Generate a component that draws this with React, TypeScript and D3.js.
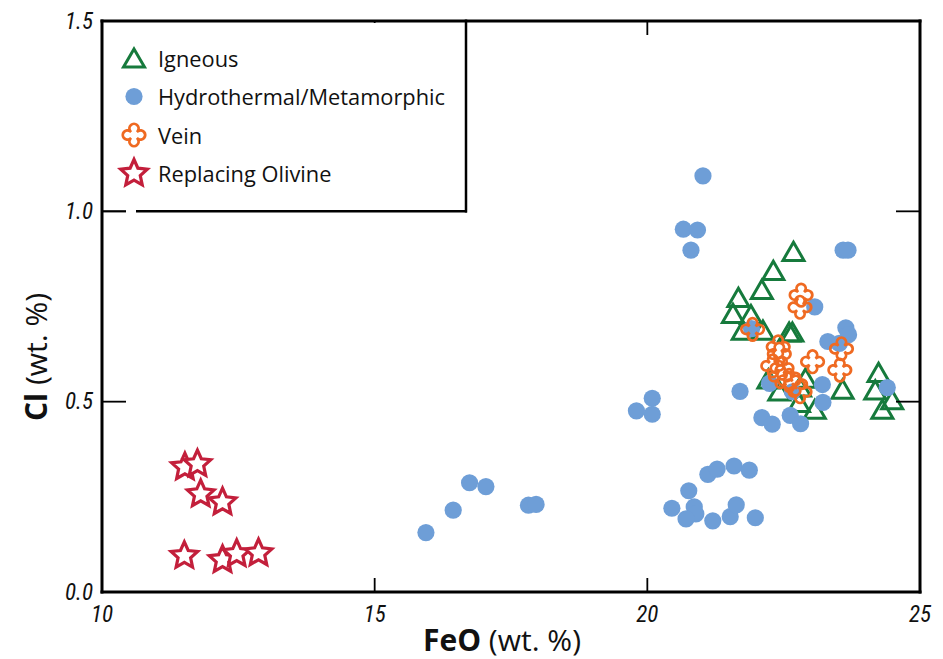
import React from "react";
import * as d3 from "d3";

const igneousFeO = [22.68, 22.31, 22.10, 21.67, 21.57, 21.90, 21.75, 22.12, 22.60, 22.66, 22.22, 22.42, 22.80, 22.90, 22.78, 23.07, 23.58, 24.24, 24.18, 24.49, 24.31];
const igneousCl = [0.895, 0.845, 0.795, 0.774, 0.732, 0.729, 0.688, 0.688, 0.683, 0.683, 0.560, 0.528, 0.539, 0.562, 0.498, 0.480, 0.533, 0.577, 0.531, 0.505, 0.480];

const hydroFeO = [15.94, 16.44, 16.74, 17.04, 17.82, 17.96, 19.80, 20.09, 20.09, 20.66, 20.92, 20.80, 21.02, 21.70, 22.10, 22.29, 22.24, 22.62, 22.81, 22.66, 21.91, 23.07, 23.59, 23.68, 23.64, 23.69, 23.31, 23.52, 23.21, 23.22, 24.40, 21.11, 21.28, 21.59, 21.87, 20.76, 20.45, 20.86, 20.89, 20.71, 21.20, 21.52, 21.63, 21.98];
const hydroCl = [0.156, 0.215, 0.287, 0.277, 0.228, 0.230, 0.476, 0.509, 0.467, 0.953, 0.951, 0.898, 1.093, 0.527, 0.458, 0.441, 0.548, 0.464, 0.442, 0.526, 0.692, 0.749, 0.898, 0.898, 0.694, 0.676, 0.658, 0.653, 0.545, 0.498, 0.537, 0.309, 0.323, 0.331, 0.320, 0.266, 0.220, 0.224, 0.205, 0.192, 0.187, 0.198, 0.229, 0.195];

const veinFeO = [22.82, 22.80, 21.93, 22.40, 22.42, 22.30, 22.47, 22.44, 22.60, 22.72, 22.80, 23.03, 23.56, 23.53];
const veinCl = [0.780, 0.748, 0.690, 0.644, 0.625, 0.594, 0.588, 0.566, 0.556, 0.546, 0.526, 0.605, 0.639, 0.583];

const olivineFeO = [11.52, 11.75, 11.81, 12.21, 11.51, 12.21, 12.47, 12.87];
const olivineCl = [0.328, 0.336, 0.257, 0.236, 0.095, 0.084, 0.100, 0.102];

const xTicks = [10, 15, 20, 25];
const yTicks = [0, 0.5, 1.0, 1.5];
const innerXTicks = [15, 20];
const innerYTicks = [0.5, 1.0];
const legendLabels = ["Igneous", "Hydrothermal/Metamorphic", "Vein", "Replacing Olivine"];

const GREEN = "#167a3c";
const BLUE = "#6e9ed7";
const ORANGE = "#ef6a22";
const RED = "#c31f3b";

const x = d3.scaleLinear().domain([10, 25]).range([102, 920]);
const y = d3.scaleLinear().domain([0, 1.5]).range([592, 21]);

function trianglePath(s: number) {
  const h = (s * Math.sqrt(3)) / 2;
  return `M0,${-h / 2}L${s / 2},${h / 2}L${-s / 2},${h / 2}Z`;
}

function starPath(R: number, r: number) {
  const pts: [number, number][] = [];
  for (let i = 0; i < 10; i++) {
    const a = -Math.PI / 2 + (i * Math.PI) / 5;
    const rad = i % 2 === 0 ? R : r;
    pts.push([Math.cos(a) * rad, Math.sin(a) * rad]);
  }
  return d3.line()(pts) + "Z";
}

function veinPath(n: number, r: number, d: number) {
  const yy = -d + Math.sqrt(r * r - n * n);
  const rot = (p: [number, number], k: number): [number, number] => {
    let [px, py] = p;
    for (let i = 0; i < k; i++) {
      const t = px;
      px = py;
      py = -t;
    }
    return [px, py];
  };
  let path = "";
  for (let k = 0; k < 4; k++) {
    const s = rot([n, yy], k);
    const e = rot([-n, yy], k);
    path += (k === 0 ? `M${s[0]},${s[1]}` : `L${s[0]},${s[1]}`) + `A${r},${r} 0 1 0 ${e[0]},${e[1]}`;
  }
  return path + "Z";
}

const triD = trianglePath(21);
const starD = starPath(14, 6.6);
const veinD = veinPath(3.8, 4.6, 6.6);

const tickFont = "'Liberation Sans Narrow', 'Roboto Condensed', 'Open Sans', sans-serif";
const textFont = "'Open Sans', 'Noto Sans', sans-serif";

export default function App() {
  return (
    <svg width={943} height={659} style={{ position: "absolute", left: 0, top: 0, background: "#fff" }}>
      <g>
        {igneousFeO.map((v, i) => (
          <path key={"ig" + i} d={triD} transform={`translate(${x(v)},${y(igneousCl[i])})`} fill="none" stroke={GREEN} strokeWidth={3} strokeLinejoin="miter" />
        ))}
        {hydroFeO.map((v, i) => (
          <circle key={"hy" + i} cx={x(v)} cy={y(hydroCl[i])} r={8.6} fill={BLUE} />
        ))}
        {veinFeO.map((v, i) => (
          <path key={"ve" + i} d={veinD} transform={`translate(${x(v)},${y(veinCl[i])})`} fill="none" stroke={ORANGE} strokeWidth={2.8} />
        ))}
        {olivineFeO.map((v, i) => (
          <path key={"ol" + i} d={starD} transform={`translate(${x(v)},${y(olivineCl[i])})`} fill="#fff" stroke={RED} strokeWidth={3.2} strokeLinejoin="miter" />
        ))}
      </g>

      <g stroke="#000" fill="none">
        <line x1={x(10)} x2={x(10)} y1={y(1.5) - 1.5} y2={y(0) + 1.5} strokeWidth={3} />
        <line x1={x(10) - 1.5} x2={x(25) + 1.5} y1={y(0)} y2={y(0)} strokeWidth={3} />
        <line x1={x(25)} x2={x(25)} y1={y(1.5) - 1.5} y2={y(0) + 1.5} strokeWidth={3} />
        <line x1={x(10) - 1.5} x2={x(25) + 1.5} y1={y(1.5)} y2={y(1.5)} strokeWidth={3} />
        {innerXTicks.map((t) => (
          <g key={"xt" + t}>
            <line x1={x(t)} x2={x(t)} y1={y(0)} y2={y(0) - 14} strokeWidth={1.8} />
            <line x1={x(t)} x2={x(t)} y1={y(1.5)} y2={y(1.5) + 14} strokeWidth={1.8} />
          </g>
        ))}
        {innerYTicks.map((t) => (
          <g key={"yt" + t}>
            <line x1={x(10)} x2={x(10) + 24} y1={y(t)} y2={y(t)} strokeWidth={1.8} />
            <line x1={x(25)} x2={x(25) - 24} y1={y(t)} y2={y(t)} strokeWidth={1.8} />
          </g>
        ))}
      </g>

      <g>
        <rect x={x(10) + 2} y={y(1.5) + 2} width={362} height={187} fill="#fff" />
        <line x1={466} x2={466} y1={y(1.5) - 1.5} y2={y(1.0) + 1.2} stroke="#000" strokeWidth={2.5} />
        <line x1={136} x2={467} y1={y(1.0)} y2={y(1.0)} stroke="#000" strokeWidth={2.5} />
        <line x1={x(10)} x2={x(10) + 24} y1={y(1.0)} y2={y(1.0)} stroke="#000" strokeWidth={1.8} />
        {legendLabels.map((lab, i) => {
          const cy = 58 + i * 38.5;
          let marker;
          if (i === 0) marker = <path d={triD} transform={`translate(134,${cy})`} fill="none" stroke={GREEN} strokeWidth={3} />;
          else if (i === 1) marker = <circle cx={134} cy={cy} r={8.6} fill={BLUE} />;
          else if (i === 2) marker = <path d={veinD} transform={`translate(134,${cy})`} fill="none" stroke={ORANGE} strokeWidth={2.8} />;
          else marker = <path d={starD} transform={`translate(134,${cy})`} fill="#fff" stroke={RED} strokeWidth={3.2} />;
          return (
            <g key={lab}>
              {marker}
              <text x={158} y={cy} dominantBaseline="central" fontFamily={textFont} fontSize={21.8} fill="#111">
                {lab}
              </text>
            </g>
          );
        })}
      </g>

      <g fontFamily={tickFont} fontStyle="italic" fontSize={23} fill="#111">
        {yTicks.map((t) => (
          <text key={"yl" + t} x={93} y={y(t)} textAnchor="end" dominantBaseline="central">
            {d3.format(".1f")(t)}
          </text>
        ))}
        {xTicks.map((t) => (
          <text key={"xl" + t} x={x(t)} y={614} textAnchor="middle" dominantBaseline="central">
            {t}
          </text>
        ))}
      </g>

      <text x={502} y={651} textAnchor="middle" fontFamily={textFont} fontSize={30} fill="#111">
        <tspan fontWeight="bold">FeO</tspan>
        <tspan> (wt. %)</tspan>
      </text>
      <text transform="translate(47,357) rotate(-90)" textAnchor="middle" fontFamily={textFont} fontSize={30} fill="#111">
        <tspan fontWeight="bold">Cl</tspan>
        <tspan> (wt. %)</tspan>
      </text>
    </svg>
  );
}
